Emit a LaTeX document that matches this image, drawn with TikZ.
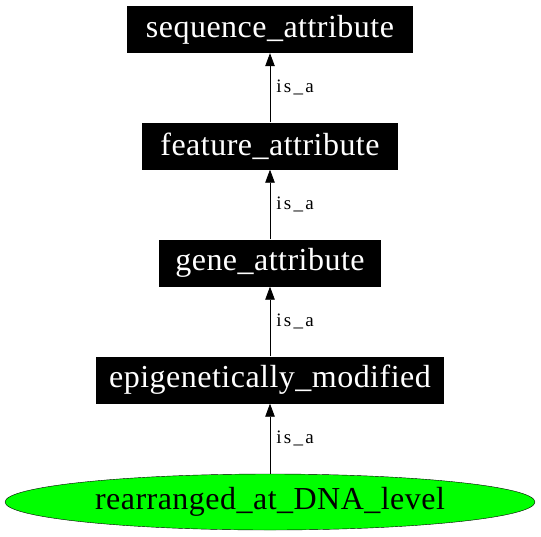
\documentclass[tikz,border=0pt]{standalone}
\usepackage{fontspec}
\setmainfont{Liberation Serif}
\newfontfamily\termfont[LetterSpace=1.5]{Liberation Serif}
\newfontfamily\labelfont[LetterSpace=12]{Liberation Serif}
\usetikzlibrary{arrows.meta,shapes.geometric}

\begin{document}
\begin{tikzpicture}[x=1pt,y=-1pt,
  term/.style={fill=black,text=white,inner sep=0pt,minimum height=47pt,font=\termfont\fontsize{32}{36}\selectfont},
  leaf/.style={ellipse,draw=black,fill=green,inner sep=0pt,minimum width=530pt,minimum height=56pt,font=\termfont\fontsize{32}{36}\selectfont},
  isa/.style={-{Triangle[length=13pt,width=9.5pt]},line width=0.8pt},
  isalabel/.style={right,inner sep=6pt,font=\labelfont\fontsize{19}{22}\selectfont}]
\useasboundingbox (0,0) rectangle (541,536);
% Terms
\node[term,minimum width=286pt] (seqattr) at (270,29.5) {sequence\_attribute};
\node[term,minimum width=256pt] (featattr) at (270,146) {feature\_attribute};
\node[term,minimum width=222pt] (geneattr) at (270,263) {gene\_attribute};
\node[term,minimum width=348pt] (epimod) at (270,380) {epigenetically\_modified};
\node[leaf] (rearr) at (270,502) {rearranged\_at\_DNA\_level};
% is_a edges
\draw[isa] (featattr) -- node[isalabel] {is\_a} (seqattr);
\draw[isa] (geneattr) -- node[isalabel] {is\_a} (featattr);
\draw[isa] (epimod) -- node[isalabel] {is\_a} (geneattr);
\draw[isa] (rearr) -- node[isalabel] {is\_a} (epimod);
\end{tikzpicture}
\end{document}
